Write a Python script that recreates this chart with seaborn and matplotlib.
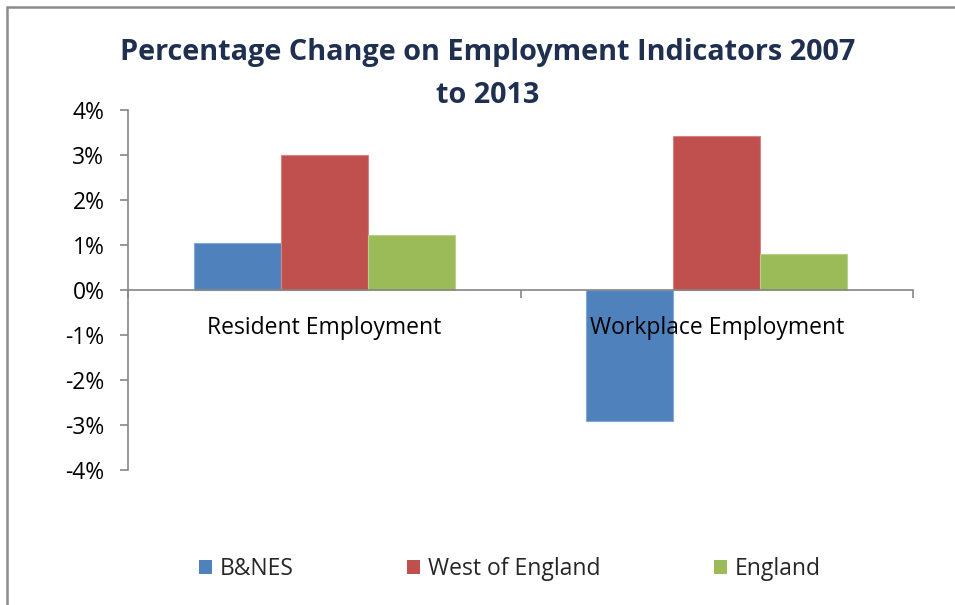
import matplotlib
matplotlib.use("Agg")
import matplotlib.pyplot as plt
from matplotlib.lines import Line2D
from matplotlib.patches import Patch
import seaborn as sns
import pandas as pd

# ---- data ----
indicators = ["Resident Employment", "Workplace Employment"]
areas = ["B&NES", "West of England", "England"]
bnes = [1.04, -2.90]
west_of_england = [3.01, 3.42]
england = [1.22, 0.81]
colors = ["#4F81BD", "#C0504D", "#9BBB59"]
yticks = [-4, -3, -2, -1, 0, 1, 2, 3, 4]
ytick_labels = [f"{v}%" for v in yticks]
title = "Percentage Change on Employment Indicators 2007\nto 2013"

rows = []
for area, vals in zip(areas, [bnes, west_of_england, england]):
    for ind, v in zip(indicators, vals):
        rows.append({"Indicator": ind, "Area": area, "Change": v})
df = pd.DataFrame(rows)

sns.set_theme(style="white")
plt.rcParams["font.family"] = ["Open Sans", "DejaVu Sans"]

W, H = 955, 605
fig = plt.figure(figsize=(W / 100, H / 100), dpi=100)
fig.patch.set_facecolor("white")
ax = fig.add_axes([128 / W, 1 - 470 / H, (913 - 128) / W, 360 / H])

sns.barplot(data=df, x="Indicator", y="Change", hue="Area", order=indicators,
            hue_order=areas, palette=colors, width=0.665, saturation=1,
            ax=ax, legend=False, errorbar=None)

# light edges like the Excel bars
for patch in ax.patches:
    r, g, b = patch.get_facecolor()[:3]
    patch.set_edgecolor((r + (1 - r) * 0.3, g + (1 - g) * 0.3, b + (1 - b) * 0.3))
    patch.set_linewidth(0.8)

grey = "#868686"
ax.set_axisbelow(False)
ax.set_ylim(-4, 4)
ax.set_xlim(-0.5, 1.5)
ax.set_yticks(yticks)
ax.set_yticklabels(ytick_labels)
ax.set_xlabel("")
ax.set_ylabel("")

for s in ["top", "right"]:
    ax.spines[s].set_visible(False)
ax.spines["left"].set_color(grey)
ax.spines["left"].set_linewidth(1.2)
ax.spines["bottom"].set_color(grey)
ax.spines["bottom"].set_linewidth(1.2)
ax.spines["bottom"].set_position(("data", 0))

ax.tick_params(axis="y", which="major", direction="out", length=6, width=1.2,
               color=grey, labelsize=16.5, labelcolor="black", pad=11, left=True)
ax.tick_params(axis="x", which="major", length=0, labelsize=16.5,
               labelcolor="black", pad=18.5, bottom=True)
ax.set_xticks([-0.5, 0.5, 1.5], minor=True)
ax.tick_params(axis="x", which="minor", direction="out", length=6, width=1.2,
               color=grey, bottom=True)
ax.xaxis.set_zorder(3)

fig.text(488 / W, 1 - 74 / H, title, ha="center", va="center",
         fontsize=20.8, fontweight="bold", color="#1F2F4F", linespacing=1.62)

handles = [Patch(facecolor=c, edgecolor="none") for c in colors]
fig.legend(handles, areas, loc="center", bbox_to_anchor=(510 / W, 1 - 569 / H),
           ncol=3, frameon=False, fontsize=16.5, handlelength=0.55,
           handleheight=0.55, handletextpad=0.35, columnspacing=4.96)

# chart frame (left and top edges visible)
fig.add_artist(Line2D([7 / W, 7 / W], [0, 1 - 7 / H], transform=fig.transFigure,
                      color="#8C8C8C", linewidth=1.8))
fig.add_artist(Line2D([7 / W, 1], [1 - 7 / H, 1 - 7 / H], transform=fig.transFigure,
                      color="#8C8C8C", linewidth=1.8))

fig.savefig("out.png", dpi=100, facecolor="white")
